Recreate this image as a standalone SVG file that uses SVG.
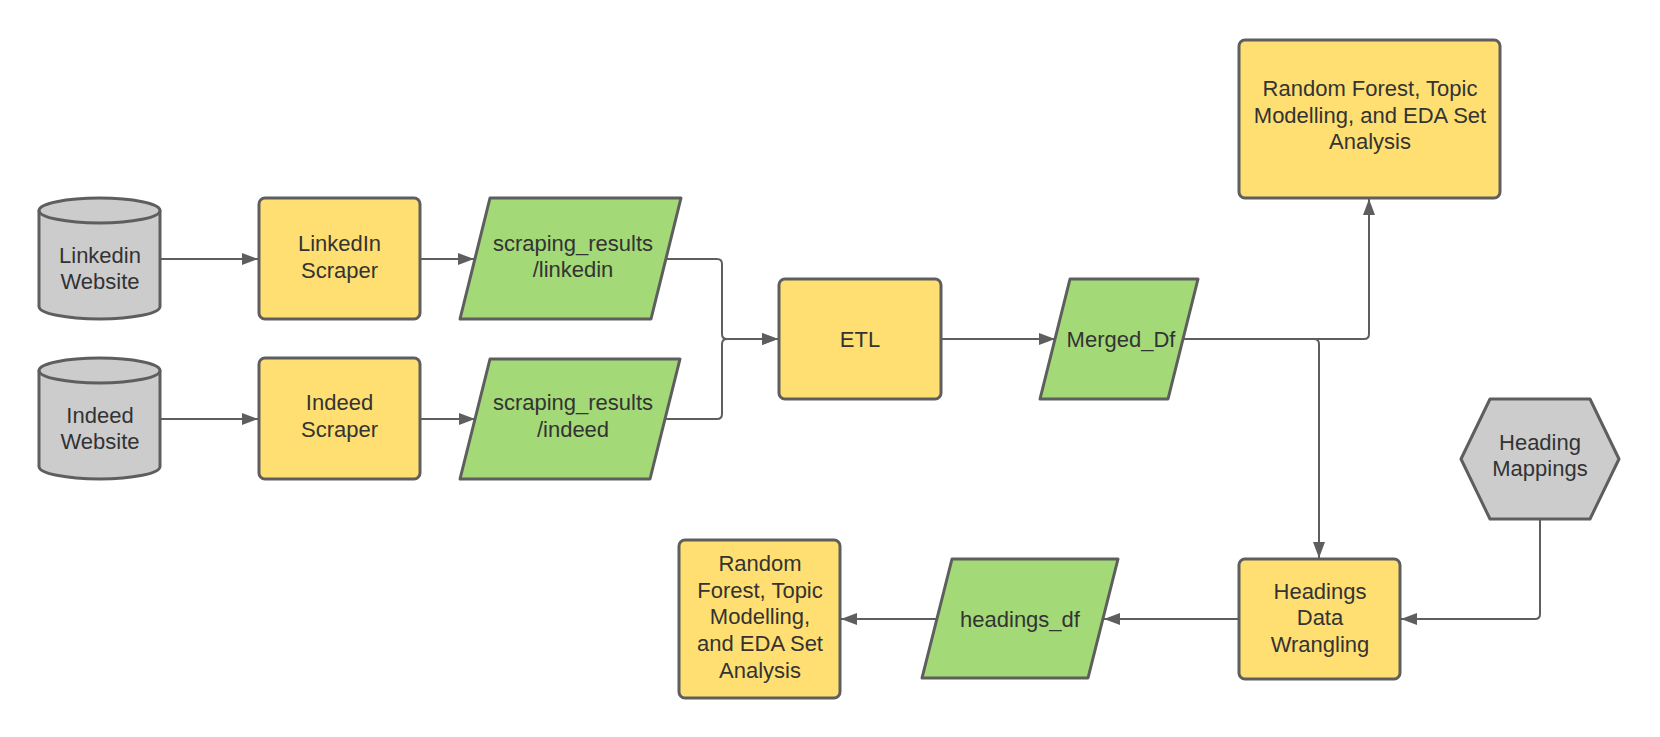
<svg xmlns="http://www.w3.org/2000/svg" width="1660" height="737" viewBox="0 0 1660 737">
<style>
.sh{stroke:#5e5e5e;stroke-width:3;stroke-linejoin:round}
.y{fill:#ffdf71}
.g{fill:#a3d977}
.gr{fill:#cccccc}
.t{font-family:"Liberation Sans",Arial,sans-serif;font-size:22px;fill:#333333;text-anchor:middle}
.c{fill:none;stroke:#5e5e5e;stroke-width:2;marker-end:url(#ah)}
</style>
<defs>
<marker id="ah" viewBox="0 0 16 12" refX="16" refY="6" markerWidth="16" markerHeight="12" markerUnits="userSpaceOnUse" orient="auto">
<path d="M0,0 L16,6 L0,12 Z" fill="#5e5e5e"/>
</marker>
</defs>
<rect width="1660" height="737" fill="#ffffff"/>
<g id="connectors">
<path class="c" d="M160,259 H258"/>
<path class="c" d="M160,419 H258"/>
<path class="c" d="M420,259 H474"/>
<path class="c" d="M420,419 H475"/>
<path class="c" d="M666,259 H717 Q722,259 722,264 V334 Q722,339 727,339 H778"/>
<path class="c" d="M665,419 H717 Q722,419 722,414 V344 Q722,339 727,339 H778"/>
<path class="c" d="M941,339 H1055"/>
<path class="c" d="M1183,339 H1364 Q1369,339 1369,334 V199"/>
<path class="c" d="M1183,339 H1314 Q1319,339 1319,344 V558"/>
<path class="c" d="M1540,519 V614 Q1540,619 1535,619 H1401"/>
<path class="c" d="M1239,619 H1104"/>
<path class="c" d="M937,619 H841"/>
</g>
<g id="linkedin-website">
<path class="sh gr" d="M39,210.5 A60.5,12.5 0 0 1 160,210.5 L160,306.5 A60.5,12.5 0 0 1 39,306.5 Z"/>
<path class="sh" fill="none" d="M39,210.5 A60.5,12.5 0 0 0 160,210.5"/>
<text class="t" x="100" y="263">Linkedin</text>
<text class="t" x="100" y="289">Website</text>
</g>
<g id="indeed-website">
<path class="sh gr" d="M39,370.5 A60.5,12.5 0 0 1 160,370.5 L160,466.5 A60.5,12.5 0 0 1 39,466.5 Z"/>
<path class="sh" fill="none" d="M39,370.5 A60.5,12.5 0 0 0 160,370.5"/>
<text class="t" x="100" y="423">Indeed</text>
<text class="t" x="100" y="449">Website</text>
</g>
<g id="linkedin-scraper">
<rect class="sh y" x="259" y="198" width="161" height="121" rx="6"/>
<text class="t" x="339.5" y="251">LinkedIn</text>
<text class="t" x="339.5" y="278">Scraper</text>
</g>
<g id="indeed-scraper">
<rect class="sh y" x="259" y="358" width="161" height="121" rx="6"/>
<text class="t" x="339.5" y="410">Indeed</text>
<text class="t" x="339.5" y="437">Scraper</text>
</g>
<g id="scraping-linkedin">
<path class="sh g" d="M490,198 L681,198 L651,319 L460,319 Z"/>
<text class="t" x="573" y="251">scraping_results</text>
<text class="t" x="573" y="277">/linkedin</text>
</g>
<g id="scraping-indeed">
<path class="sh g" d="M490,359 L680,359 L650,479 L460,479 Z"/>
<text class="t" x="573" y="410">scraping_results</text>
<text class="t" x="573" y="437">/indeed</text>
</g>
<g id="etl">
<rect class="sh y" x="779" y="279" width="162" height="120" rx="6"/>
<text class="t" x="860" y="347">ETL</text>
</g>
<g id="merged-df">
<path class="sh g" d="M1070,279 L1198,279 L1168,399 L1040,399 Z"/>
<text class="t" x="1121" y="347">Merged_Df</text>
</g>
<g id="analysis-top">
<rect class="sh y" x="1239" y="40" width="261" height="158" rx="6"/>
<text class="t" x="1370" y="96">Random Forest, Topic</text>
<text class="t" x="1370" y="123">Modelling, and EDA Set</text>
<text class="t" x="1370" y="149">Analysis</text>
</g>
<g id="heading-mappings">
<path class="sh gr" d="M1461,459 L1490,399 L1590,399 L1619,459 L1590,519 L1490,519 Z"/>
<text class="t" x="1540" y="450">Heading</text>
<text class="t" x="1540" y="476">Mappings</text>
</g>
<g id="headings-wrangling">
<rect class="sh y" x="1239" y="559" width="161" height="120" rx="6"/>
<text class="t" x="1320" y="599">Headings</text>
<text class="t" x="1320" y="625">Data</text>
<text class="t" x="1320" y="652">Wrangling</text>
</g>
<g id="headings-df">
<path class="sh g" d="M952,559 L1118,559 L1088,678 L922,678 Z"/>
<text class="t" x="1020" y="627">headings_df</text>
</g>
<g id="analysis-bottom">
<rect class="sh y" x="679" y="540" width="161" height="158" rx="6"/>
<text class="t" x="760" y="571">Random</text>
<text class="t" x="760" y="598">Forest, Topic</text>
<text class="t" x="760" y="624">Modelling,</text>
<text class="t" x="760" y="651">and EDA Set</text>
<text class="t" x="760" y="678">Analysis</text>
</g>
</svg>
